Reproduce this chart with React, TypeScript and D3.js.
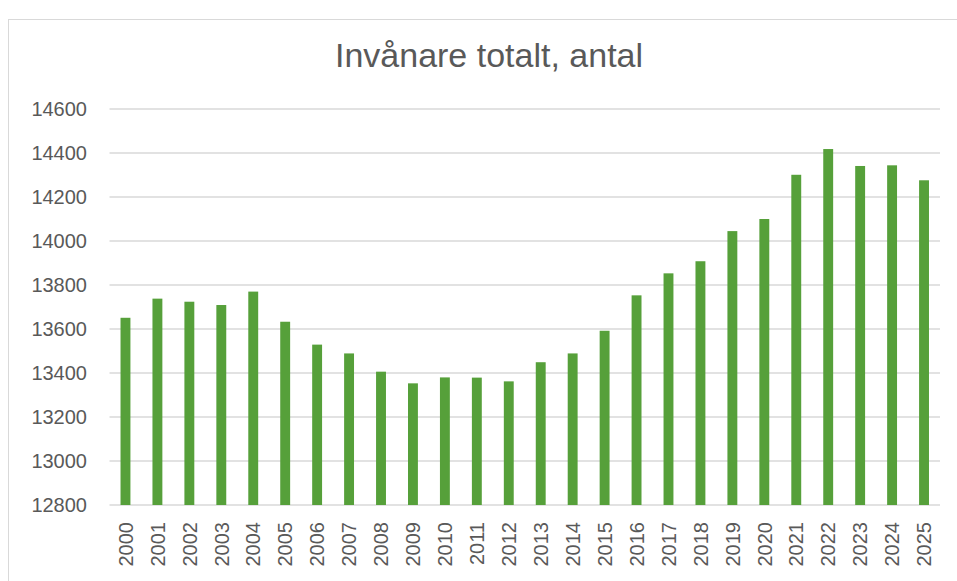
import { useEffect, useRef } from "react";
import * as d3 from "d3";

const years = [
  "2000", "2001", "2002", "2003", "2004", "2005", "2006", "2007", "2008",
  "2009", "2010", "2011", "2012", "2013", "2014", "2015", "2016", "2017",
  "2018", "2019", "2020", "2021", "2022", "2023", "2024", "2025",
];
const population = [
  13651, 13738, 13724, 13709, 13770, 13633, 13529, 13489, 13406,
  13353, 13380, 13379, 13362, 13449, 13489, 13592, 13753, 13853,
  13908, 14045, 14100, 14301, 14418, 14341, 14344, 14276,
];
const yTicks = [12800, 13000, 13200, 13400, 13600, 13800, 14000, 14200, 14400, 14600];

const W = 957;
const H = 581;
const PLOT = { left: 109.5, right: 940, top: 109, bottom: 505 };
const TEXT = "#595959";
const GRID = "#d9d9d9";
const BAR = "#56a03a";
const FONT = "'Liberation Sans', Arial, sans-serif";

export default function App() {
  const svgRef = useRef<SVGSVGElement>(null);

  useEffect(() => {
    if (!svgRef.current) return;
    const svg = d3.select(svgRef.current);
    svg.selectAll("*").remove();

    // chart area frame (runs off the right/bottom edge)
    svg.append("rect")
      .attr("x", 8.5).attr("y", 19.5)
      .attr("width", 1000).attr("height", 700)
      .attr("fill", "white").attr("stroke", GRID);

    svg.append("text")
      .attr("x", 489).attr("y", 67)
      .attr("text-anchor", "middle")
      .attr("font-family", FONT)
      .attr("font-size", 34)
      .attr("fill", TEXT)
      .text("Invånare totalt, antal");

    const x = d3.scaleBand().domain(years).range([PLOT.left, PLOT.right]).paddingInner(0.69).paddingOuter(0.345);
    const y = d3.scaleLinear().domain([12800, 14600]).range([PLOT.bottom, PLOT.top]);

    // gridlines
    svg.append("g")
      .selectAll("line")
      .data(yTicks)
      .enter()
      .append("line")
      .attr("x1", PLOT.left).attr("x2", PLOT.right)
      .attr("y1", (d) => y(d)).attr("y2", (d) => y(d))
      .attr("stroke", GRID).attr("stroke-width", 1.5);

    // y labels
    svg.append("g")
      .selectAll("text")
      .data(yTicks)
      .enter()
      .append("text")
      .attr("x", 87).attr("y", (d) => y(d))
      .attr("dy", "0.36em")
      .attr("text-anchor", "end")
      .attr("font-family", FONT)
      .attr("font-size", 20)
      .attr("fill", TEXT)
      .text((d) => String(d));

    // bars
    svg.append("g")
      .selectAll("rect")
      .data(population)
      .enter()
      .append("rect")
      .attr("x", (_, i) => x(years[i])!)
      .attr("width", x.bandwidth())
      .attr("y", (d) => y(d))
      .attr("height", (d) => y(12800) - y(d))
      .attr("fill", BAR);

    // x labels, rotated
    svg.append("g")
      .selectAll("text")
      .data(years)
      .enter()
      .append("text")
      .attr("transform", (d) => `translate(${x(d)! + x.bandwidth() / 2},522) rotate(-90)`)
      .attr("dy", "0.36em")
      .attr("text-anchor", "end")
      .attr("font-family", FONT)
      .attr("font-size", 20)
      .attr("fill", TEXT)
      .text((d) => d);
  }, []);

  return (
    <svg
      ref={svgRef}
      width={W}
      height={H}
      style={{ position: "fixed", left: 0, top: 0, background: "white" }}
    />
  );
}
